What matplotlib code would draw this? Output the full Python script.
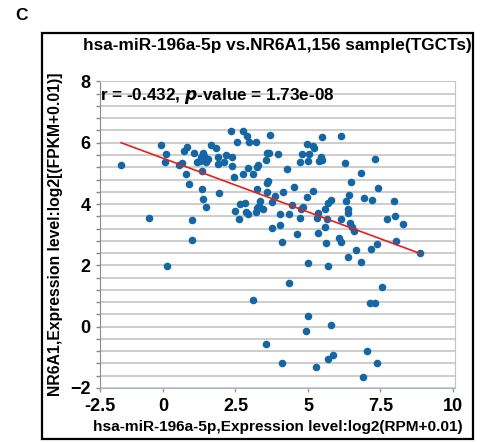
import numpy as np
import matplotlib
matplotlib.use("Agg")
import matplotlib.pyplot as plt
from matplotlib.patches import Rectangle

plt.rcParams['font.family'] = ['Liberation Sans', 'DejaVu Sans']

# miRNA expression (x) vs NR6A1 expression (y)
mirna = [-1.44, -0.07, 0.10, 0.08, 0.56, 0.67, 0.71, 0.83, 1.06, 1.16,
         1.31, 1.39, 1.45, 1.56, 1.66, 1.82, 1.89, 1.90, 1.36, 0.79,
         0.91, 1.33, 1.39, 1.47, 1.93, -0.47, 1.00, 1.01, 0.14, 2.34,
         2.75, 2.55, 2.91, 2.96, 3.21, 3.69, 2.18, 2.10, 2.37, 2.39,
         2.46, 2.77, 2.92, 3.09, 3.23, 3.27, 3.58, 3.66, 3.56, 3.96,
         4.27, 3.58, 3.61, 3.25, 3.60, 4.15, 4.52, 4.96, 5.16, 5.22,
         4.78, 5.04, 4.72, 4.99, 5.45, 5.49, 5.39, 5.49, 6.14, 5.16,
         4.96, 3.86, 3.34, 3.31, 2.83, 2.64, 2.48, 2.62, 2.85, 2.94,
         3.20, 3.24, 3.46, 3.75, 4.03, 4.34, 4.44, 4.76, 4.82, 4.72,
         4.03, 3.75, 4.63, 5.30, 5.36, 5.59, 5.70, 5.79, 5.64, 5.59,
         5.36, 6.14, 6.28, 7.31, 6.82, 6.48, 7.41, 6.42, 6.31, 6.93,
         7.22, 7.98, 6.37, 6.37, 6.45, 6.51, 6.60, 7.71, 8.00, 8.27,
         6.08, 6.14, 6.37, 6.66, 6.82, 7.16, 7.37, 8.03, 8.86, 7.56,
         7.14, 7.31, 7.04, 7.39, 6.89, 4.11, 5.61, 5.01, 5.70, 4.34,
         3.09, 5.01, 5.78, 4.92, 3.56, 5.85, 5.70, 4.09, 5.27, 1.42,
         1.50, 1.28]
nr6a1 = [5.26, 5.93, 5.62, 5.36, 5.26, 5.33, 5.73, 5.85, 5.65, 5.38,
         5.52, 5.67, 5.46, 5.46, 5.92, 5.82, 5.54, 5.30, 5.08, 4.98,
         4.66, 4.49, 4.15, 3.89, 4.35, 3.53, 3.48, 2.84, 1.98, 6.39,
         6.39, 6.02, 6.22, 6.03, 6.01, 6.26, 5.60, 5.38, 5.52, 5.24,
         4.89, 4.98, 5.16, 4.97, 5.20, 5.26, 5.65, 5.67, 5.44, 5.64,
         5.13, 4.69, 4.76, 4.49, 4.40, 4.40, 4.54, 5.96, 5.89, 5.82,
         5.63, 5.63, 5.38, 5.40, 5.54, 5.44, 5.40, 6.20, 6.22, 4.43,
         4.22, 4.27, 4.10, 3.93, 4.04, 3.99, 3.77, 3.51, 3.73, 3.67,
         3.73, 3.86, 3.83, 4.08, 3.67, 3.66, 3.97, 3.83, 3.89, 3.53,
         3.31, 3.23, 3.02, 3.53, 3.70, 3.83, 4.04, 4.13, 3.52, 3.26,
         3.06, 3.51, 5.33, 5.46, 5.00, 4.73, 4.52, 4.28, 4.11, 4.19,
         4.13, 4.11, 3.84, 3.70, 3.39, 3.26, 3.13, 3.51, 3.61, 3.34,
         2.88, 2.77, 2.26, 2.50, 2.10, 2.52, 2.69, 2.79, 2.39, 1.30,
         0.76, 0.78, -0.80, -1.20, -1.65, 2.75, 2.74, 2.07, 1.99, 1.43,
         0.88, 0.35, 0.04, -0.13, -0.56, -0.93, -1.06, -1.20, -1.31, 5.58,
         5.36, 5.42]

# regression line as drawn
fit_slope = -0.3505
fit_intercept = 5.495

x_min, x_max = -2.17, 10.07
x_tick_labels = ['-2.5', '0', '2.5', '5', '7.5', '10']
y_tick_values = [-2, 0, 2, 4, 6, 8]
grid_step = 0.4

fig = plt.figure(figsize=(4.82, 4.42), dpi=100)
ax = fig.add_axes([0.2075, 0.1222, 0.7365, 0.6936])

ax.scatter(mirna, nr6a1, s=30, color='#1467a4', zorder=3, linewidths=0)

xs = np.array([min(mirna), max(mirna)])
ax.plot(xs, fit_intercept + fit_slope * xs, color='#e3211c', lw=1.2, zorder=4)

ax.set_xlim(x_min, x_max)
ax.set_ylim(-2, 8)
ax.set_xticks([x_min, 0, 2.5, 5, 7.5, 10])
ax.set_xticklabels(x_tick_labels)
ax.set_yticks(y_tick_values)
ax.set_yticks(np.arange(-2, 8.01, grid_step), minor=True)
ax.grid(True, axis='y', which='both', color='#c9c9c9', lw=1.3, zorder=1)
ax.set_axisbelow(True)

for lab in ax.get_xticklabels() + ax.get_yticklabels():
    lab.set_fontweight('bold')
    lab.set_fontsize(13)
ax.tick_params(axis='x', length=3, width=1, color='#8899aa', pad=4)
ax.tick_params(axis='y', which='both', length=3, width=1, color='#888888', pad=4)

ax.spines['left'].set_color('#8c8c8c')
ax.spines['bottom'].set_color('#a6b8cb')
ax.spines['top'].set_color('#c9c9c9')
ax.spines['right'].set_color('#c4c4c4')

ax.set_xlabel('hsa-miR-196a-5p,Expression level:log2(RPM+0.01)',
              fontsize=11.1, fontweight='bold', labelpad=4)
ax.set_ylabel('NR6A1,Expression level:log2[(FPKM+0.01)]',
              fontsize=11.3, fontweight='bold', labelpad=5)

ax.text(0.0, 0.953, r'r = -0.432, $\bfit{p}$-value = 1.73e-08',
        transform=ax.transAxes, fontsize=12.3, fontweight='bold',
        ha='left', va='center')

fig.text(0.576, 0.898, 'hsa-miR-196a-5p vs.NR6A1,156 sample(TGCTs)',
         fontsize=12.4, fontweight='bold', ha='center', va='center')
fig.text(0.045, 0.966, 'C', fontsize=12.5, fontweight='bold',
         ha='center', va='center')

fig.patches.append(Rectangle((42 / 482, 1 - 439 / 442), 431 / 482, 406 / 442,
                             transform=fig.transFigure, fill=False,
                             ec='black', lw=1.6))

fig.savefig('out.png', dpi=100)
